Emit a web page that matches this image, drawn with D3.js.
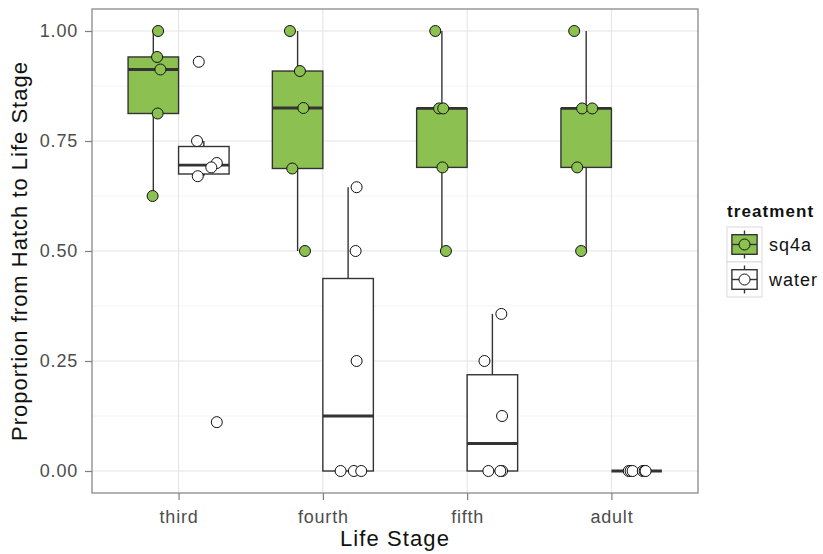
<!DOCTYPE html>
<html><head><meta charset="utf-8">
<script src="https://cdn.jsdelivr.net/npm/d3@7/dist/d3.min.js"></script>
<style>body{margin:0;background:#fff;} text{font-family:"Liberation Sans",Arial,sans-serif;}</style>
</head><body>
<svg id="c" width="823" height="554"></svg>
<script>
const stages = ["third","fourth","fifth","adult"];
const treatments = ["sq4a","water"];
const fills = {sq4a:"#8cc152", water:"#ffffff"};
// values per stage
const sq4aValues = [
  [1.0, 0.941, 0.9125, 0.8125, 0.625],
  [1.0, 0.909, 0.825, 0.6875, 0.5],
  [1.0, 0.824, 0.824, 0.69, 0.5],
  [1.0, 0.824, 0.824, 0.69, 0.5]
];
const waterValues = [
  [0.93, 0.75, 0.70, 0.69, 0.67, 0.111],
  [0.645, 0.5, 0.25, 0, 0, 0],
  [0.357, 0.25, 0.125, 0, 0, 0],
  [0, 0, 0, 0, 0, 0]
];
// jitter offsets in category units
const sq4aJitter = [
  [0.033, 0.026, 0.049, 0.030, -0.005],
  [-0.053, 0.016, 0.040, -0.037, 0.051],
  [-0.046, -0.019, 0.009, 0.004, 0.028],
  [-0.083, -0.028, 0.042, -0.062, -0.035]
];
const waterJitter = [
  [-0.035, -0.047, 0.090, 0.052, -0.042, 0.090],
  [0.059, 0.052, 0.059, -0.052, 0.040, 0.091],
  [0.062, -0.055, 0.067, -0.028, 0.067, 0.055],
  [-0.055, -0.042, -0.028, 0.042, 0.055, 0.062]
];
const yTicks = [0, 0.25, 0.5, 0.75, 1.0];
const yMinor = [0.125, 0.375, 0.625, 0.875];

const svg = d3.select("#c");
const L = 92, R = 698, T = 9, B = 493;
const x = d3.scalePoint().domain(stages).range([L, R]).padding(0.6);
const y = d3.scaleLinear().domain([-0.05, 1.05]).range([B, T]);
const step = x.step();
const dodge = 0.7;
const bw = step * dodge / 2;
const offs = {sq4a: -bw / 2, water: bw / 2};

// panel
svg.append("rect").attr("x", L).attr("y", T).attr("width", R - L).attr("height", B - T).attr("fill", "#fff");
const g = svg.append("g");
g.selectAll(".ymin").data(yMinor).join("line")
  .attr("x1", L).attr("x2", R).attr("y1", d => y(d)).attr("y2", d => y(d))
  .attr("stroke", "#f4f4f4").attr("stroke-width", 1);
g.selectAll(".ymaj").data(yTicks).join("line")
  .attr("x1", L).attr("x2", R).attr("y1", d => y(d)).attr("y2", d => y(d))
  .attr("stroke", "#e3e3e3").attr("stroke-width", 1);
g.selectAll(".xmaj").data(stages).join("line")
  .attr("x1", d => x(d)).attr("x2", d => x(d)).attr("y1", T).attr("y2", B)
  .attr("stroke", "#e3e3e3").attr("stroke-width", 1);

function stats(vals) {
  const s = vals.slice().sort(d3.ascending);
  const q1 = d3.quantile(s, 0.25), med = d3.quantile(s, 0.5), q3 = d3.quantile(s, 0.75);
  const iqr = q3 - q1;
  const lo = d3.min(s.filter(v => v >= q1 - 1.5 * iqr));
  const hi = d3.max(s.filter(v => v <= q3 + 1.5 * iqr));
  return {q1, med, q3, lo, hi};
}

const groups = [];
stages.forEach((st, i) => {
  groups.push({stage: st, tr: "sq4a", vals: sq4aValues[i], jit: sq4aJitter[i]});
  groups.push({stage: st, tr: "water", vals: waterValues[i], jit: waterJitter[i]});
});

const boxG = svg.append("g");
groups.forEach(gr => {
  const s = stats(gr.vals);
  const cx = x(gr.stage) + offs[gr.tr];
  const gg = boxG.append("g");
  gg.append("line").attr("x1", cx).attr("x2", cx).attr("y1", y(s.hi)).attr("y2", y(s.q3))
    .attr("stroke", "#333").attr("stroke-width", 1.4);
  gg.append("line").attr("x1", cx).attr("x2", cx).attr("y1", y(s.q1)).attr("y2", y(s.lo))
    .attr("stroke", "#333").attr("stroke-width", 1.4);
  gg.append("rect").attr("x", cx - bw / 2).attr("width", bw)
    .attr("y", y(s.q3)).attr("height", Math.max(0, y(s.q1) - y(s.q3)))
    .attr("fill", fills[gr.tr]).attr("stroke", "#333").attr("stroke-width", 1.4);
  gg.append("line").attr("x1", cx - bw / 2).attr("x2", cx + bw / 2).attr("y1", y(s.med)).attr("y2", y(s.med))
    .attr("stroke", "#333").attr("stroke-width", 2.8);
});

const ptG = svg.append("g");
groups.forEach(gr => {
  const cx = x(gr.stage) + offs[gr.tr];
  ptG.selectAll(null).data(gr.vals.map((v, k) => ({v, j: gr.jit[k]}))).join("circle")
    .attr("cx", d => cx + d.j * step).attr("cy", d => y(d.v)).attr("r", 5.5)
    .attr("fill", fills[gr.tr]).attr("stroke", "#111").attr("stroke-width", 1);
});

// border
svg.append("rect").attr("x", L).attr("y", T).attr("width", R - L).attr("height", B - T)
  .attr("fill", "none").attr("stroke", "#7f7f7f").attr("stroke-width", 1.2);

// axes
const xa = svg.append("g").attr("transform", `translate(0,${B})`)
  .call(d3.axisBottom(x).tickSize(7).tickPadding(10));
const ya = svg.append("g").attr("transform", `translate(${L},0)`)
  .call(d3.axisLeft(y).tickValues(yTicks).tickFormat(d3.format(".2f")).tickSize(7).tickPadding(7));
[xa, ya].forEach(a => {
  a.select(".domain").remove();
  a.selectAll(".tick line").attr("stroke", "#7f7f7f").attr("stroke-width", 1.2);
  a.selectAll(".tick text").attr("fill", "#4d4d4d").attr("font-size", 18)
    .attr("letter-spacing", 0.8).attr("font-family", "Liberation Sans, Arial, sans-serif");
});

svg.append("text").attr("x", (L + R) / 2).attr("y", 546).attr("text-anchor", "middle")
  .attr("font-size", 22).attr("letter-spacing", 1.1).attr("fill", "#111").text("Life Stage");
svg.append("text").attr("transform", `translate(27,${(T + B) / 2}) rotate(-90)`).attr("text-anchor", "middle")
  .attr("font-size", 22).attr("letter-spacing", 1).attr("fill", "#111").text("Proportion from Hatch to Life Stage");

// legend
const lg = svg.append("g").attr("transform", "translate(727,0)");
lg.append("text").attr("x", 0).attr("y", 217).attr("font-size", 17).attr("letter-spacing", 1.1)
  .attr("font-weight", "bold").attr("fill", "#111").text("treatment");
const ks = 35;
treatments.forEach((t, i) => {
  const k = lg.append("g").attr("transform", `translate(0,${227 + i * ks})`);
  k.append("rect").attr("width", ks).attr("height", ks).attr("fill", "#fff").attr("stroke", "#d9d9d9").attr("stroke-width", 1);
  const c = ks / 2;
  k.append("line").attr("x1", c).attr("x2", c).attr("y1", ks * 0.1).attr("y2", ks * 0.9).attr("stroke", "#333").attr("stroke-width", 1.4);
  k.append("rect").attr("x", ks * 0.14).attr("width", ks * 0.72).attr("y", ks * 0.22).attr("height", ks * 0.56)
    .attr("fill", fills[t]).attr("stroke", "#333").attr("stroke-width", 1.4);
  k.append("line").attr("x1", ks * 0.14).attr("x2", ks * 0.86).attr("y1", c).attr("y2", c).attr("stroke", "#333").attr("stroke-width", 1.4);
  k.append("circle").attr("cx", c).attr("cy", c).attr("r", 5.5).attr("fill", fills[t]).attr("stroke", "#111").attr("stroke-width", 1);
  k.append("text").attr("x", ks + 7).attr("y", c).attr("dy", "0.35em").attr("font-size", 18)
    .attr("letter-spacing", 1).attr("fill", "#111").text(t);
});
</script>
</body></html>
